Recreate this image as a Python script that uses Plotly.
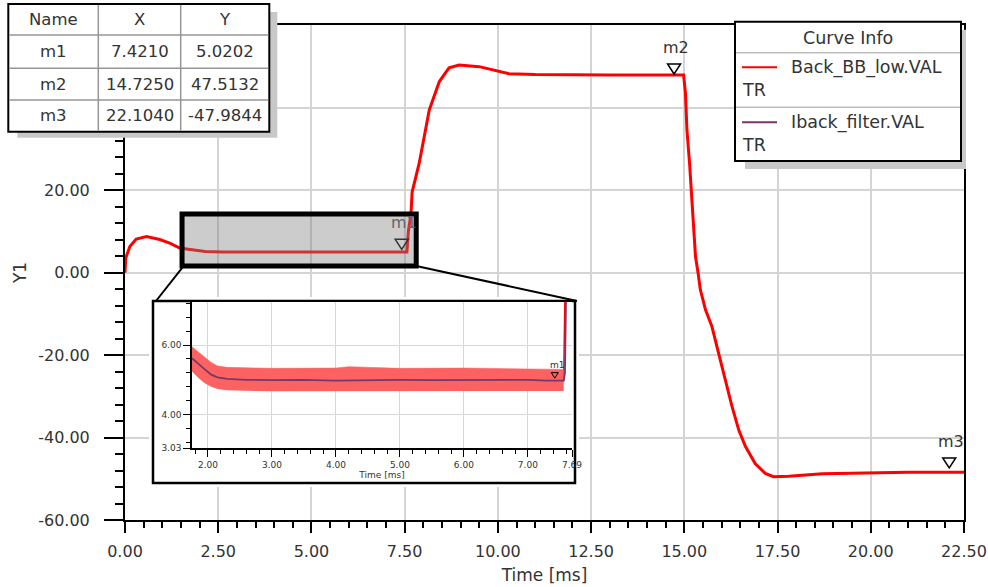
import plotly.graph_objects as go

# ---------------- data ----------------
# main curve Back_BB_low.VAL (time in ms, value)
t_main = [0.0, 0.02, 0.13, 0.30, 0.58, 0.93, 1.20, 1.47, 1.65, 1.75, 1.85, 1.95, 2.05, 2.15,
          2.6, 3.0, 4.0, 5.0, 6.0, 7.0, 7.56, 7.60, 7.67, 7.70, 7.89, 8.16, 8.43, 8.69,
          8.96, 9.50, 10.03, 10.30, 11.0, 12.0, 13.0, 14.0, 14.98, 15.03, 15.07, 15.14,
          15.19, 15.25, 15.30, 15.37, 15.43, 15.57, 15.74, 15.92, 16.10, 16.28, 16.46,
          16.64, 16.90, 17.17, 17.39, 17.80, 18.70, 20.00, 21.00, 22.50]
y_main = [0.0, 3.5, 6.3, 8.1, 8.7, 8.0, 7.1, 5.9, 5.7, 5.6, 5.45, 5.3, 5.15, 5.07,
          5.0, 5.0, 4.99, 5.0, 5.0, 4.99, 4.98, 10.0, 14.4, 19.5, 26.5, 39.4, 46.3, 49.6,
          50.3, 49.9, 48.7, 48.2, 48.0, 47.9, 47.9, 47.9, 47.9, 43.5, 34.5, 26.5,
          18.4, 10.3, 3.8, -0.2, -4.2, -9.1, -13.1, -19.6, -26.1, -32.5, -38.2,
          -42.2, -46.3, -48.7, -49.5, -49.4, -48.8, -48.5, -48.4, -48.4]

# zoomed detail: Iback_filter.VAL mean and Back_BB_low noise envelope
t_inset = [1.75, 1.85, 1.95, 2.05, 2.15, 2.30, 2.60, 3.0, 3.5, 4.0, 4.5, 5.0, 5.5, 6.0,
           6.5, 7.0, 7.30, 7.56, 7.58, 7.61]
y_filter = [5.62, 5.45, 5.30, 5.15, 5.07, 5.03, 5.00, 4.99, 5.00, 4.98, 5.00, 5.00, 4.99,
            5.00, 4.99, 5.00, 4.98, 4.98, 5.2, 9.0]
t_band = [1.75, 1.85, 1.95, 2.05, 2.15, 2.30, 3.0, 4.0, 4.2, 5.0, 6.0, 7.0, 7.56]
band_hi = [5.95, 5.80, 5.65, 5.50, 5.40, 5.36, 5.33, 5.34, 5.38, 5.33, 5.34, 5.32, 5.30]
band_lo = [5.24, 5.05, 4.90, 4.80, 4.74, 4.70, 4.67, 4.67, 4.66, 4.68, 4.67, 4.68, 4.68]

# markers
marker_names = ["m1", "m2", "m3"]
marker_x = [7.4210, 14.7250, 22.1040]
marker_y = [5.0202, 47.5132, -47.9844]

trace_names = ["Back_BB_low.VAL", "Iback_filter.VAL"]
trace_colors = ["rgb(255,0,0)", "rgb(120,55,105)"]

y_ticks_main = [-60, -40, -20, 0, 20, 40, 60]
y_ticks_hidden = [40, 60]          # covered by the marker table
x_ticks_inset = [2.0, 3.0, 4.0, 5.0, 6.0, 7.0, 7.69]
y_ticks_inset = [3.03, 4.0, 6.0]

# ---------------- layout helpers ----------------
W, H = 988, 587
L, R, T, B = 125, 964, 25, 520
PW, PH = R - L, B - T
FONT = "DejaVu Sans"
TXT = "#333333"


def PX(x):
    return (x - L) / PW


def PY(y):
    return (B - y) / PH


XR = [0, 22.5]
YR = [-60, 60]


def dx2p(v):
    return (v - XR[0]) / (XR[1] - XR[0])


def dy2p(v):
    return (v - YR[0]) / (YR[1] - YR[0])


fig = go.Figure()

# main traces
fig.add_trace(go.Scatter(x=t_main, y=y_main, mode="lines", name=trace_names[1],
                         line=dict(color=trace_colors[1], width=1.5),
                         xaxis="x", yaxis="y", showlegend=False, hoverinfo="skip"))
fig.add_trace(go.Scatter(x=t_main, y=y_main, mode="lines", name=trace_names[0],
                         line=dict(color=trace_colors[0], width=3),
                         xaxis="x", yaxis="y", showlegend=False, hoverinfo="skip"))

# cover subplot for inset frame
fig.add_trace(go.Scatter(x=[None], y=[None], xaxis="x2", yaxis="y2",
                         showlegend=False, hoverinfo="skip"))

# inset traces
fig.add_trace(go.Scatter(x=t_main, y=y_main, mode="lines", line=dict(color=trace_colors[0], width=1.5),
                         xaxis="x3", yaxis="y3", showlegend=False, hoverinfo="skip"))
fig.add_trace(go.Scatter(x=t_band, y=band_lo, mode="lines", line=dict(width=0, color="rgba(0,0,0,0)"),
                         xaxis="x3", yaxis="y3", showlegend=False, hoverinfo="skip"))
fig.add_trace(go.Scatter(x=t_band, y=band_hi, mode="lines", line=dict(width=0.5, color="rgb(255,90,90)"),
                         fill="tonexty", fillcolor="rgb(252,98,98)",
                         xaxis="x3", yaxis="y3", showlegend=False, hoverinfo="skip"))
fig.add_trace(go.Scatter(x=t_inset, y=y_filter, mode="lines", line=dict(color=trace_colors[1], width=1.8),
                         xaxis="x3", yaxis="y3", showlegend=False, hoverinfo="skip"))

shapes = []
annotations = []

# main markers
for n, mx, my in zip(marker_names, marker_x, marker_y):
    shapes.append(dict(type="path", xref="x", yref="y", xsizemode="pixel", ysizemode="pixel",
                       xanchor=mx, yanchor=my, path="M-6.5,12.5 L6.5,12.5 L0,2.5 Z",
                       line=dict(color="black", width=1.5), fillcolor="rgba(255,255,255,0)",
                       layer="above"))
    annotations.append(dict(xref="x", yref="y", x=mx, y=my, text=n, showarrow=False,
                            xshift=2, yshift=29, yanchor="middle", xanchor="center",
                            font=dict(family=FONT, size=16,
                                      color="rgb(100,100,100)" if n == "m1" else TXT)))

# zoom box on main plot
ZX0, ZX1, ZY0, ZY1 = 1.53, 7.81, 1.6, 14.2
shapes.append(dict(type="rect", xref="x", yref="y", x0=ZX0, x1=ZX1, y0=ZY0, y1=ZY1,
                   fillcolor="rgba(128,128,128,0.4)", line=dict(color="black", width=5),
                   layer="above"))

# inset frame (cover) geometry in pixels
IB_X0, IB_X1, IB_Y0, IB_Y1 = 153, 575, 301, 483
pad = 4
fig.update_layout(
    xaxis2=dict(domain=[PX(IB_X0 - pad), PX(IB_X1 + pad)],
                range=[-pad / (IB_X1 - IB_X0), 1 + pad / (IB_X1 - IB_X0)],
                visible=False, anchor="y2", fixedrange=True, automargin=False),
    yaxis2=dict(domain=[PY(IB_Y1 + pad), PY(IB_Y0 - pad)],
                range=[-pad / (IB_Y1 - IB_Y0), 1 + pad / (IB_Y1 - IB_Y0)],
                visible=False, anchor="x2", fixedrange=True, automargin=False),
)
shapes.append(dict(type="rect", xref="x2", yref="y2", x0=0, x1=1, y0=0, y1=1,
                   fillcolor="white", line=dict(color="black", width=2.5), layer="below"))

# connector lines
shapes.append(dict(type="line", xref="paper", yref="paper", x0=dx2p(ZX0) + 0.002, y0=dy2p(ZY0),
                   x1=PX(IB_X0 + 3), y1=PY(IB_Y0), line=dict(color="black", width=2), layer="above"))
shapes.append(dict(type="line", xref="paper", yref="paper", x0=dx2p(ZX1), y0=dy2p(ZY0),
                   x1=PX(IB_X1 + 2), y1=PY(IB_Y0), line=dict(color="black", width=2), layer="above"))

# inset marker m1
shapes.append(dict(type="path", xref="x3", yref="y3", xsizemode="pixel", ysizemode="pixel",
                   xanchor=marker_x[0], yanchor=marker_y[0], path="M-3.5,6.5 L3.5,6.5 L0,1 Z",
                   line=dict(color="black", width=1), fillcolor="rgba(255,255,255,0)", layer="above"))
annotations.append(dict(xref="x3", yref="y3", x=marker_x[0], y=marker_y[0], text=marker_names[0],
                        showarrow=False, xshift=3, yshift=14, font=dict(family=FONT, size=9, color=TXT)))

# ---------------- table ----------------
TX = [8.3, 98.3, 180.7, 269.3]
TY = [4, 35, 68.3, 100, 131.7]
shapes.append(dict(type="rect", xref="paper", yref="paper", x0=PX(TX[0] + 9), x1=PX(TX[3] + 8),
                   y0=PY(TY[4] + 6), y1=PY(TY[0] + 8), fillcolor="rgb(200,200,200)",
                   line=dict(width=0), layer="above"))
shapes.append(dict(type="rect", xref="paper", yref="paper", x0=PX(TX[0]), x1=PX(TX[3]),
                   y0=PY(TY[4]), y1=PY(TY[0]), fillcolor="white",
                   line=dict(color="black", width=2), layer="above"))
for xv in TX[1:3]:
    shapes.append(dict(type="line", xref="paper", yref="paper", x0=PX(xv), x1=PX(xv),
                       y0=PY(TY[4] - 1), y1=PY(TY[0] + 1), line=dict(color="rgb(150,150,150)", width=1.5),
                       layer="above"))
for yv in TY[1:4]:
    shapes.append(dict(type="line", xref="paper", yref="paper", x0=PX(TX[0] + 1), x1=PX(TX[3] - 1),
                       y0=PY(yv), y1=PY(yv), line=dict(color="rgb(150,150,150)", width=1.5),
                       layer="above"))
rows = [["Name", "X", "Y"]] + [[n, f"{x:.4f}", f"{y:.4f}"] for n, x, y in zip(marker_names, marker_x, marker_y)]
for ri, row in enumerate(rows):
    yc = (TY[ri] + TY[ri + 1]) / 2
    for ci, txt in enumerate(row):
        xc = (TX[ci] + TX[ci + 1]) / 2
        annotations.append(dict(xref="paper", yref="paper", x=PX(xc), y=PY(yc), text=txt,
                                showarrow=False, xanchor="center", yanchor="middle",
                                font=dict(family=FONT, size=16.5, color=TXT)))

# ---------------- curve info box ----------------
CX0, CX1 = 735, 961
CY = [21.7, 52.7, 107.3, 161]
LEG_FS = 17.5
shapes.append(dict(type="rect", xref="paper", yref="paper", x0=PX(CX0 + 10), x1=PX(CX1 + 5),
                   y0=PY(CY[3] + 8), y1=PY(CY[0] + 8), fillcolor="rgb(200,200,200)",
                   line=dict(width=0), layer="above"))
shapes.append(dict(type="rect", xref="paper", yref="paper", x0=PX(CX0), x1=PX(CX1),
                   y0=PY(CY[3]), y1=PY(CY[0]), fillcolor="white",
                   line=dict(color="black", width=2), layer="above"))
for yv in CY[1:3]:
    shapes.append(dict(type="line", xref="paper", yref="paper", x0=PX(CX0 + 1), x1=PX(CX1 - 1),
                       y0=PY(yv), y1=PY(yv), line=dict(color="rgb(190,190,190)", width=1.5),
                       layer="above"))
annotations.append(dict(xref="paper", yref="paper", x=PX((CX0 + CX1) / 2), y=PY(37.7), text="Curve Info",
                        showarrow=False, xanchor="center", yanchor="middle",
                        font=dict(family=FONT, size=LEG_FS, color=TXT)))
for i, (nm, col) in enumerate(zip(trace_names, trace_colors)):
    yl = [67.3, 122.3][i]
    yt = [90, 145][i]
    shapes.append(dict(type="line", xref="paper", yref="paper", x0=PX(742), x1=PX(777),
                       y0=PY(yl), y1=PY(yl), line=dict(color=col, width=2), layer="above"))
    annotations.append(dict(xref="paper", yref="paper", x=PX(789), y=PY(yl), text=nm,
                            showarrow=False, xanchor="left", yanchor="middle",
                            font=dict(family=FONT, size=LEG_FS, color=TXT)))
    annotations.append(dict(xref="paper", yref="paper", x=PX(740), y=PY(yt), text="TR",
                            showarrow=False, xanchor="left", yanchor="middle",
                            font=dict(family=FONT, size=LEG_FS, color=TXT)))

# inset plot area
IX0, IX1, IY0, IY1 = 192, 572, 302, 448.3

axis_common = dict(showline=True, linecolor="black", ticks="outside", tickcolor="black",
                   zeroline=False, fixedrange=True, automargin=False)

fig.update_layout(
    template="none",
    width=W, height=H,
    margin=dict(l=L, r=W - R, t=T, b=H - B, pad=0, autoexpand=False),
    paper_bgcolor="white", plot_bgcolor="white",
    showlegend=False,
    font=dict(family=FONT, color=TXT),
    xaxis=dict(axis_common, domain=[0, 1], range=XR, anchor="y", linewidth=2, mirror=True,
               tick0=0, dtick=2.5, tickformat=".2f", ticklen=11, tickwidth=1.5,
               showgrid=True, gridcolor="rgb(212,212,212)", gridwidth=1.5,
               tickfont=dict(family=FONT, size=16, color=TXT), ticklabelstandoff=5,
               minor=dict(ticks="outside", dtick=0.5, tick0=0, ticklen=6, tickwidth=1.5,
                          tickcolor="black", showgrid=False),
               title=dict(text="Time [ms]", font=dict(family=FONT, size=17, color=TXT), standoff=9)),
    yaxis=dict(axis_common, domain=[0, 1], range=YR, anchor="x", linewidth=2, mirror=True,
               tickmode="array", tickvals=y_ticks_main,
               ticktext=["" if v in y_ticks_hidden else f"{v:.2f}" for v in y_ticks_main],
               ticklen=19, tickwidth=1.5,
               showgrid=True, gridcolor="rgb(212,212,212)", gridwidth=1.5,
               tickfont=dict(family=FONT, size=16, color=TXT), ticklabelstandoff=11,
               minor=dict(ticks="outside", tickmode="linear", dtick=4, tick0=0, ticklen=8, tickwidth=1.5,
                          tickcolor="black", showgrid=False),
               title=dict(text="Y1", font=dict(family=FONT, size=17, color=TXT), standoff=7)),
    xaxis3=dict(axis_common, domain=[PX(IX0), PX(IX1)], range=[1.75, 7.69], anchor="y3", linewidth=1.5,
                tickmode="array", tickvals=x_ticks_inset, ticktext=[f"{v:.2f}" for v in x_ticks_inset],
                ticklen=7, tickwidth=1, showgrid=True, gridcolor="rgb(215,215,215)", gridwidth=1,
                tickfont=dict(family=FONT, size=9, color=TXT),
                minor=dict(ticks="outside", tickmode="linear", tick0=0, dtick=0.2, ticklen=4,
                           tickwidth=1, tickcolor="black", showgrid=False),
                title=dict(text="Time [ms]", font=dict(family=FONT, size=9, color=TXT), standoff=2)),
    yaxis3=dict(axis_common, domain=[PY(IY1), PY(IY0)], range=[3.03, 7.24], anchor="x3", linewidth=1.5,
                tickmode="array", tickvals=y_ticks_inset, ticktext=[f"{v:.2f}" for v in y_ticks_inset],
                ticklen=7, tickwidth=1, showgrid=True, gridcolor="rgb(215,215,215)", gridwidth=1,
                tickfont=dict(family=FONT, size=9, color=TXT),
                minor=dict(ticks="outside", tickmode="linear", tick0=0, dtick=0.4, ticklen=4,
                           tickwidth=1, tickcolor="black", showgrid=False)),
    shapes=shapes,
    annotations=annotations,
)

fig.write_html("out.html")
